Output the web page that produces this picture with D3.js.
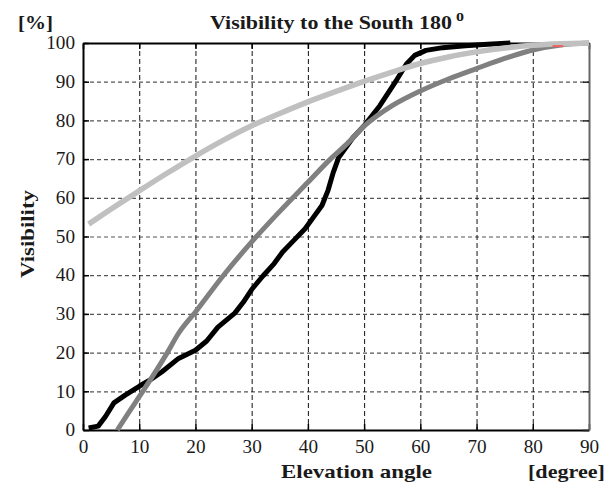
<!DOCTYPE html>
<html><head><meta charset="utf-8">
<script src="https://cdn.jsdelivr.net/npm/d3@7"></script>
<style>
body{margin:0;background:#fff;}
svg{display:block;}
text{font-family:"Liberation Serif","Times New Roman",serif;fill:#1a1a1a;}
</style></head><body>
<svg id="chart" width="615" height="493"></svg>
<script>
// ---- data ----
const xTicks = [0,10,20,30,40,50,60,70,80,90];
const yTicks = [0,10,20,30,40,50,60,70,80,90,100];
const blackSeries = [[1,0.5],[2.7,1],[4,3.5],[5.5,7],[7.5,9],[10,11.3],[12,13],[14,15],[17,18.5],[20,20.6],[22,23],[24,26.6],[27,30.2],[28.5,33],[30,36.3],[32,39.8],[34,43],[35.5,46],[37.5,49],[39.5,52],[41,55],[42.5,58],[43.6,62],[44.5,66.5],[45.5,70.5],[46.5,72.5],[48,75.5],[50,78.6],[52.8,83.8],[55.8,90.5],[57.5,94.5],[59,96.8],[61,98.1],[64,98.8],[68,99.3],[72,99.7],[76,100]];
const midGraySeries = [[6.1,0],[8,4.2],[10,8.6],[12,13],[15,20],[17,25],[20,30.5],[25,40],[30,48.6],[35,56.5],[40,64],[44,70],[47,74],[50,78.5],[55,83.8],[60,87.6],[65,90.7],[70,93.4],[75,96],[80,98.2],[85,99.5],[90,100]];
const lightGraySeries = [[1,53.2],[5,57.1],[10,61.8],[15,66.4],[20,70.8],[25,74.9],[30,78.6],[35,81.8],[40,84.8],[45,87.5],[50,90.1],[55,92.5],[60,94.7],[65,96.4],[70,97.7],[75,98.7],[80,99.4],[85,99.8],[90,100]];
const redSeries = [[83.5,99.2],[85.4,99.2]];

const svg = d3.select("#chart");
const L=83, R=589, T=43, B=430;
const x = d3.scaleLinear().domain([0,90]).range([L,R]);
const y = d3.scaleLinear().domain([0,100]).range([B,T]);

// grid
svg.append("g").selectAll("line").data(yTicks.filter(d=>d>0&&d<100)).join("line")
  .attr("x1",L).attr("x2",R).attr("y1",d=>y(d)+0.5).attr("y2",d=>y(d)+0.5)
  .attr("stroke","#555").attr("stroke-width",1.2).attr("stroke-dasharray","4,3");
svg.append("g").selectAll("line").data(xTicks.filter(d=>d>0&&d<90)).join("line")
  .attr("x1",d=>x(d)+0.5).attr("x2",d=>x(d)+0.5).attr("y1",T).attr("y2",B)
  .attr("stroke","#111").attr("stroke-width",1).attr("stroke-dasharray","5,3");

// axes
const gx = svg.append("g").attr("transform",`translate(0,${B})`)
  .call(d3.axisBottom(x).tickValues(xTicks).tickSizeInner(-6).tickSizeOuter(0).tickPadding(10));
const gy = svg.append("g").attr("transform",`translate(${L},0)`)
  .call(d3.axisLeft(y).tickValues(yTicks).tickSizeInner(-6).tickSizeOuter(0).tickPadding(8));
const gt = svg.append("g").attr("transform",`translate(0,${T})`)
  .call(d3.axisTop(x).tickValues(xTicks).tickSizeInner(-6).tickSizeOuter(0).tickFormat(""));
const gr = svg.append("g").attr("transform",`translate(${R},0)`)
  .call(d3.axisRight(y).tickValues(yTicks).tickSizeInner(-6).tickSizeOuter(0).tickFormat(""));
[gx,gy,gt].forEach(g=>{g.select(".domain").attr("stroke","#000").attr("stroke-width",2);
  g.selectAll(".tick line").attr("stroke","#000").attr("stroke-width",1.5);});
gr.select(".domain").attr("stroke","#666").attr("stroke-width",2);
gr.selectAll(".tick line").attr("stroke","#222").attr("stroke-width",1.5);
[gx,gy].forEach(g=>g.selectAll(".tick text").attr("font-size",18)
  .attr("font-family","Liberation Serif, serif").attr("fill","#1a1a1a"));
gy.selectAll(".tick text").attr("textLength",d=>String(d).length*9.6).attr("lengthAdjust","spacingAndGlyphs");
gx.selectAll(".tick text").attr("textLength",d=>String(d).length*9.6).attr("lengthAdjust","spacingAndGlyphs");

// lines
const line = d3.line().x(d=>x(d[0])).y(d=>y(d[1])).curve(d3.curveLinear);
const smooth = d3.line().x(d=>x(d[0])).y(d=>y(d[1])).curve(d3.curveMonotoneX);
const plot = svg.append("g");
plot.append("path").datum(blackSeries).attr("d",line).attr("fill","none")
  .attr("stroke","#000").attr("stroke-width",5).attr("stroke-linejoin","round");
plot.append("path").datum(midGraySeries).attr("d",smooth).attr("fill","none")
  .attr("stroke","#808080").attr("stroke-width",5).attr("stroke-linejoin","round");
plot.append("path").datum(lightGraySeries).attr("d",smooth).attr("fill","none")
  .attr("stroke","#c0c0c0").attr("stroke-width",5.5).attr("stroke-linejoin","round");
plot.append("path").datum(redSeries).attr("d",line).attr("fill","none")
  .attr("stroke","#f06060").attr("stroke-width",2);

// text
const title = svg.append("text").attr("x",210).attr("y",29).attr("font-size",19).attr("font-weight","bold");
title.append("tspan").attr("textLength",242).attr("lengthAdjust","spacingAndGlyphs").text("Visibility to the South 180");
title.append("tspan").attr("dx",4).attr("dy",-8).attr("font-size",16).text("o");
svg.append("text").attr("x",18).attr("y",29).attr("font-size",19).attr("font-weight","bold")
  .attr("textLength",35).attr("lengthAdjust","spacingAndGlyphs").text("[%]");
svg.append("text").attr("transform","translate(34,234) rotate(-90)").attr("text-anchor","middle")
  .attr("font-size",19).attr("font-weight","bold")
  .attr("textLength",88).attr("lengthAdjust","spacingAndGlyphs").text("Visibility");
svg.append("text").attr("x",281).attr("y",478)
  .attr("font-size",19).attr("font-weight","bold")
  .attr("textLength",151).attr("lengthAdjust","spacingAndGlyphs").text("Elevation angle");
svg.append("text").attr("x",528).attr("y",478)
  .attr("font-size",19).attr("font-weight","bold")
  .attr("textLength",77).attr("lengthAdjust","spacingAndGlyphs").text("[degree]");
</script></body></html>
